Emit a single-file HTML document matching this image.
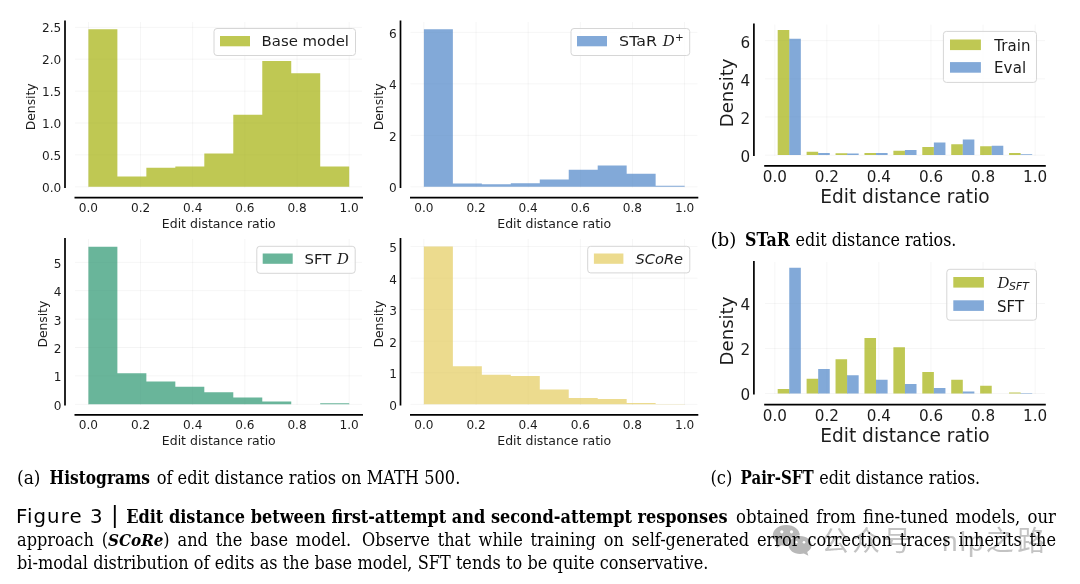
<!DOCTYPE html>
<html><head><meta charset="utf-8"><title>Figure 3</title>
<style>
html,body{margin:0;padding:0;background:#fff;}
body{width:1080px;height:584px;overflow:hidden;}
svg{display:block;}
.chart{font-family:"DejaVu Sans","Liberation Sans",sans-serif;fill:#1c1c1c;}
</style></head><body>
<svg width="1080" height="584" viewBox="0 0 1080 584">
<rect width="1080" height="584" fill="#fff"/>
<g class="chart">
<path d="M88.4 22V187.5M140.56 22V187.5M192.72 22V187.5M244.88 22V187.5M297.04 22V187.5M349.2 22V187.5M75 186.8H362M75 154.9H362M75 123H362M75 91.1H362M75 59.2H362M75 27.3H362" stroke="#000" stroke-opacity="0.028" stroke-width="1" fill="none"/>
<path d="M88.4 186.8V29.21H117.38V186.8ZM117.38 186.8V176.59H146.36V186.8ZM146.36 186.8V167.66H175.33V186.8ZM175.33 186.8V166.38H204.31V186.8ZM204.31 186.8V153.62H233.29V186.8ZM233.29 186.8V114.71H262.27V186.8ZM262.27 186.8V61.11H291.24V186.8ZM291.24 186.8V73.24H320.22V186.8ZM320.22 186.8V166.38H349.2V186.8Z" fill="#bfc853"/>
<path d="M88.4 22V187.5M140.56 22V187.5M192.72 22V187.5M244.88 22V187.5M297.04 22V187.5M349.2 22V187.5M75 186.8H362M75 154.9H362M75 123H362M75 91.1H362M75 59.2H362M75 27.3H362" stroke="#000" stroke-opacity="0.015" stroke-width="1" fill="none"/>
<path d="M65 20.5V188M74.5 197.6H363" stroke="#000" stroke-width="1.7" fill="none"/>
<g font-size="12.1" text-anchor="end">
<text x="61.2" y="191.7">0.0</text>
<text x="61.2" y="159.8">0.5</text>
<text x="61.2" y="127.9">1.0</text>
<text x="61.2" y="96">1.5</text>
<text x="61.2" y="64.1">2.0</text>
<text x="61.2" y="32.2">2.5</text>
</g>
<g font-size="12.1" text-anchor="middle">
<text x="88.4" y="211.5">0.0</text>
<text x="140.56" y="211.5">0.2</text>
<text x="192.72" y="211.5">0.4</text>
<text x="244.88" y="211.5">0.6</text>
<text x="297.04" y="211.5">0.8</text>
<text x="349.2" y="211.5">1.0</text>
</g>
<text x="218.8" y="228.2" font-size="12.5" text-anchor="middle">Edit distance ratio</text>
<text transform="translate(35,106.8) rotate(-90)" font-size="12.3" text-anchor="middle">Density</text>
<rect x="214" y="28.5" width="141.5" height="27" rx="3" fill="#fff" fill-opacity="0.8" stroke="#d6d6d6" stroke-width="1"/>
<rect x="220" y="36" width="30" height="10.3" fill="#bfc853"/>
<text x="261.6" y="46.4" font-size="14.9">Base model</text>
</g>
<g class="chart">
<path d="M423.9 22V187.5M476.04 22V187.5M528.18 22V187.5M580.32 22V187.5M632.46 22V187.5M684.6 22V187.5M410.4 186.8H697.5M410.4 135.3H697.5M410.4 83.8H697.5M410.4 32.3H697.5" stroke="#000" stroke-opacity="0.028" stroke-width="1" fill="none"/>
<path d="M423.9 186.8V29.29H452.87V186.8ZM452.87 186.8V183.45H481.83V186.8ZM481.83 186.8V184.23H510.8V186.8ZM510.8 186.8V183.2H539.77V186.8ZM539.77 186.8V179.59H568.73V186.8ZM568.73 186.8V169.7H597.7V186.8ZM597.7 186.8V165.61H626.67V186.8ZM626.67 186.8V173.8H655.63V186.8ZM655.63 186.8V185.64H684.6V186.8Z" fill="#82a9d8"/>
<path d="M423.9 22V187.5M476.04 22V187.5M528.18 22V187.5M580.32 22V187.5M632.46 22V187.5M684.6 22V187.5M410.4 186.8H697.5M410.4 135.3H697.5M410.4 83.8H697.5M410.4 32.3H697.5" stroke="#000" stroke-opacity="0.015" stroke-width="1" fill="none"/>
<path d="M400.5 20.5V188M410 197.6H698.3" stroke="#000" stroke-width="1.7" fill="none"/>
<g font-size="12.1" text-anchor="end">
<text x="396.6" y="192.3">0</text>
<text x="396.6" y="140.8">2</text>
<text x="396.6" y="89.3">4</text>
<text x="396.6" y="37.8">6</text>
</g>
<g font-size="12.1" text-anchor="middle">
<text x="423.9" y="211.5">0.0</text>
<text x="476.04" y="211.5">0.2</text>
<text x="528.18" y="211.5">0.4</text>
<text x="580.32" y="211.5">0.6</text>
<text x="632.46" y="211.5">0.8</text>
<text x="684.6" y="211.5">1.0</text>
</g>
<text x="554.25" y="228.2" font-size="12.5" text-anchor="middle">Edit distance ratio</text>
<text transform="translate(382.6,106.8) rotate(-90)" font-size="12.3" text-anchor="middle">Density</text>
<rect x="571" y="28.5" width="118.7" height="27" rx="3" fill="#fff" fill-opacity="0.8" stroke="#d6d6d6" stroke-width="1"/>
<rect x="577" y="36" width="30" height="10.3" fill="#82a9d8"/>
<text x="619.1" y="46.2" font-size="14.9" textLength="37.8" lengthAdjust="spacingAndGlyphs">STaR</text><text x="662.7" y="46.2" font-size="14.9" textLength="12" lengthAdjust="spacingAndGlyphs" font-family="'DejaVu Serif',serif" font-style="italic">D</text><text x="675" y="41.3" font-size="10.4">+</text>
</g>
<g class="chart">
<path d="M88.4 239V405M140.56 239V405M192.72 239V405M244.88 239V405M297.04 239V405M349.2 239V405M75 404.3H362M75 375.9H362M75 347.5H362M75 319.1H362M75 290.7H362M75 262.3H362" stroke="#000" stroke-opacity="0.028" stroke-width="1" fill="none"/>
<path d="M88.4 404.3V246.68H117.38V404.3ZM117.38 404.3V373.2H146.36V404.3ZM146.36 404.3V381.38H175.33V404.3ZM175.33 404.3V386.86H204.31V404.3ZM204.31 404.3V392.17H233.29V404.3ZM233.29 404.3V397.48H262.27V404.3ZM262.27 404.3V401.46H291.24V404.3ZM320.22 404.3V403.16H349.2V404.3Z" fill="#69b59a"/>
<path d="M88.4 239V405M140.56 239V405M192.72 239V405M244.88 239V405M297.04 239V405M349.2 239V405M75 404.3H362M75 375.9H362M75 347.5H362M75 319.1H362M75 290.7H362M75 262.3H362" stroke="#000" stroke-opacity="0.015" stroke-width="1" fill="none"/>
<path d="M65 237.9V405.4M74.5 414.8H363" stroke="#000" stroke-width="1.7" fill="none"/>
<g font-size="12.1" text-anchor="end">
<text x="61.4" y="409.8">0</text>
<text x="61.4" y="381.4">1</text>
<text x="61.4" y="353">2</text>
<text x="61.4" y="324.6">3</text>
<text x="61.4" y="296.2">4</text>
<text x="61.4" y="267.8">5</text>
</g>
<g font-size="12.1" text-anchor="middle">
<text x="88.4" y="428.6">0.0</text>
<text x="140.56" y="428.6">0.2</text>
<text x="192.72" y="428.6">0.4</text>
<text x="244.88" y="428.6">0.6</text>
<text x="297.04" y="428.6">0.8</text>
<text x="349.2" y="428.6">1.0</text>
</g>
<text x="218.8" y="445.2" font-size="12.5" text-anchor="middle">Edit distance ratio</text>
<text transform="translate(46.8,324.2) rotate(-90)" font-size="12.3" text-anchor="middle">Density</text>
<rect x="256.8" y="246.3" width="98.4" height="27" rx="3" fill="#fff" fill-opacity="0.8" stroke="#d6d6d6" stroke-width="1"/>
<rect x="262.7" y="253.5" width="30" height="10.3" fill="#69b59a"/>
<text x="304.6" y="263.9" font-size="14.9">SFT</text><text x="337" y="263.9" font-size="14.9" textLength="12" lengthAdjust="spacingAndGlyphs" font-family="'DejaVu Serif',serif" font-style="italic">D</text>
</g>
<g class="chart">
<path d="M423.9 239V405M476.04 239V405M528.18 239V405M580.32 239V405M632.46 239V405M684.6 239V405M410.4 404.3H697.5M410.4 372.76H697.5M410.4 341.22H697.5M410.4 309.68H697.5M410.4 278.14H697.5M410.4 246.6H697.5" stroke="#000" stroke-opacity="0.028" stroke-width="1" fill="none"/>
<path d="M423.9 404.3V246.6H452.87V404.3ZM452.87 404.3V366.29H481.83V404.3ZM481.83 404.3V374.65H510.8V404.3ZM510.8 404.3V376.07H539.77V404.3ZM539.77 404.3V389.6H568.73V404.3ZM568.73 404.3V397.99H597.7V404.3ZM597.7 404.3V399H626.67V404.3ZM626.67 404.3V403.1H655.63V404.3ZM655.63 404.3V403.98H684.6V404.3Z" fill="#ecdb8e"/>
<path d="M423.9 239V405M476.04 239V405M528.18 239V405M580.32 239V405M632.46 239V405M684.6 239V405M410.4 404.3H697.5M410.4 372.76H697.5M410.4 341.22H697.5M410.4 309.68H697.5M410.4 278.14H697.5M410.4 246.6H697.5" stroke="#000" stroke-opacity="0.015" stroke-width="1" fill="none"/>
<path d="M400.5 237.9V405.4M410 414.8H698.3" stroke="#000" stroke-width="1.7" fill="none"/>
<g font-size="12.1" text-anchor="end">
<text x="396.9" y="409.8">0</text>
<text x="396.9" y="378.26">1</text>
<text x="396.9" y="346.72">2</text>
<text x="396.9" y="315.18">3</text>
<text x="396.9" y="283.64">4</text>
<text x="396.9" y="252.1">5</text>
</g>
<g font-size="12.1" text-anchor="middle">
<text x="423.9" y="428.6">0.0</text>
<text x="476.04" y="428.6">0.2</text>
<text x="528.18" y="428.6">0.4</text>
<text x="580.32" y="428.6">0.6</text>
<text x="632.46" y="428.6">0.8</text>
<text x="684.6" y="428.6">1.0</text>
</g>
<text x="554.25" y="445.2" font-size="12.5" text-anchor="middle">Edit distance ratio</text>
<text transform="translate(382.6,324.2) rotate(-90)" font-size="12.3" text-anchor="middle">Density</text>
<rect x="587.7" y="246.3" width="102.1" height="26.6" rx="3" fill="#fff" fill-opacity="0.8" stroke="#d6d6d6" stroke-width="1"/>
<rect x="593.9" y="253.5" width="29.5" height="10.3" fill="#ecdb8e"/>
<text x="635.5" y="263.9" font-size="14.6"><tspan font-style="oblique">SCoRe</tspan></text>
</g>
<g class="chart">
<path d="M774.8 24.5V155.8M826.86 24.5V155.8M878.92 24.5V155.8M930.98 24.5V155.8M983.04 24.5V155.8M1035.1 24.5V155.8M764.9 155.1H1045M764.9 116.98H1045M764.9 78.86H1045M764.9 40.74H1045" stroke="#000" stroke-opacity="0.028" stroke-width="1" fill="none"/>
<path d="M777.69 155.1V30.07H789.26V155.1ZM806.61 155.1V151.86H818.18V155.1ZM835.54 155.1V153.25H847.11V155.1ZM864.46 155.1V152.91H876.03V155.1ZM893.38 155.1V150.72H904.95V155.1ZM922.3 155.1V146.9H933.87V155.1ZM951.23 155.1V144.24H962.79V155.1ZM980.15 155.1V146.24H991.72V155.1ZM1009.07 155.1V152.91H1020.64V155.1Z" fill="#bfc853"/>
<path d="M789.13 155.1V38.83H789.65V155.1ZM818.05 155.1V153.1H818.57V155.1ZM846.98 155.1V153.38H847.5V155.1ZM875.9 155.1V152.91H876.42V155.1ZM904.82 155.1V150.72H905.34V155.1ZM933.74 155.1V146.9H934.26V155.1ZM962.66 155.1V144.24H963.18V155.1ZM991.59 155.1V146.24H992.11V155.1ZM1020.51 155.1V154.15H1021.03V155.1Z" fill="#bfc853"/>
<path d="M789.26 155.1V38.83H800.83V155.1ZM818.18 155.1V153.1H829.75V155.1ZM847.11 155.1V153.38H858.67V155.1ZM876.03 155.1V152.91H887.6V155.1ZM904.95 155.1V149.95H916.52V155.1ZM933.87 155.1V142.52H945.44V155.1ZM962.79 155.1V139.38H974.36V155.1ZM991.72 155.1V145.76H1003.29V155.1ZM1020.64 155.1V154.15H1032.21V155.1Z" fill="#82a9d8"/>
<path d="M774.8 24.5V155.8M826.86 24.5V155.8M878.92 24.5V155.8M930.98 24.5V155.8M983.04 24.5V155.8M1035.1 24.5V155.8M764.9 155.1H1045M764.9 116.98H1045M764.9 78.86H1045M764.9 40.74H1045" stroke="#000" stroke-opacity="0.015" stroke-width="1" fill="none"/>
<path d="M753.9 23.4V156.1M764.2 165.9H1045.8" stroke="#000" stroke-width="1.7" fill="none"/>
<g font-size="15.2" text-anchor="end">
<text x="750.1" y="161.98">0</text>
<text x="750.1" y="123.86">2</text>
<text x="750.1" y="85.74">4</text>
<text x="750.1" y="47.62">6</text>
</g>
<g font-size="15.2" text-anchor="middle">
<text x="774.8" y="182.3">0.0</text>
<text x="826.86" y="182.3">0.2</text>
<text x="878.92" y="182.3">0.4</text>
<text x="930.98" y="182.3">0.6</text>
<text x="983.04" y="182.3">0.8</text>
<text x="1035.1" y="182.3">1.0</text>
</g>
<text x="904.95" y="203.4" font-size="18.6" text-anchor="middle">Edit distance ratio</text>
<text transform="translate(733.4,92.9) rotate(-90)" font-size="18.1" text-anchor="middle">Density</text>
<rect x="943.4" y="31.4" width="93.1" height="51" rx="3" fill="#fff" fill-opacity="0.8" stroke="#d6d6d6" stroke-width="1"/>
<rect x="950" y="39.5" width="30.9" height="10.6" fill="#bfc853"/>
<text x="994.2" y="50.5" font-size="15" textLength="36.2" lengthAdjust="spacing">Train</text>
<rect x="950" y="62.1" width="30.9" height="10.6" fill="#82a9d8"/>
<text x="993.9" y="73.2" font-size="15" textLength="32.3" lengthAdjust="spacing">Eval</text>
</g>
<g class="chart">
<path d="M774.8 262V394.1M826.86 262V394.1M878.92 262V394.1M930.98 262V394.1M983.04 262V394.1M1035.1 262V394.1M764.9 393.4H1045M764.9 348.4H1045M764.9 303.4H1045" stroke="#000" stroke-opacity="0.028" stroke-width="1" fill="none"/>
<path d="M777.69 393.4V388.99H789.26V393.4ZM806.61 393.4V378.71H818.18V393.4ZM835.54 393.4V359.2H847.11V393.4ZM864.46 393.4V338.05H876.03V393.4ZM893.38 393.4V347.27H904.95V393.4ZM922.3 393.4V372.02H933.87V393.4ZM951.23 393.4V379.74H962.79V393.4ZM980.15 393.4V385.73H991.72V393.4ZM1009.07 393.4V392.39H1020.64V393.4Z" fill="#bfc853"/>
<path d="M789.13 393.4V388.99H789.65V393.4ZM818.05 393.4V378.71H818.57V393.4ZM846.98 393.4V375.26H847.5V393.4ZM875.9 393.4V379.74H876.42V393.4ZM904.82 393.4V384H905.34V393.4ZM933.74 393.4V387.93H934.26V393.4ZM962.66 393.4V391.53H963.18V393.4ZM1020.51 393.4V393.06H1021.03V393.4Z" fill="#bfc853"/>
<path d="M789.26 393.4V267.85H800.83V393.4ZM818.18 393.4V368.94H829.75V393.4ZM847.11 393.4V375.26H858.67V393.4ZM876.03 393.4V379.74H887.6V393.4ZM904.95 393.4V384H916.52V393.4ZM933.87 393.4V387.93H945.44V393.4ZM962.79 393.4V391.53H974.36V393.4ZM1020.64 393.4V393.06H1032.21V393.4Z" fill="#82a9d8"/>
<path d="M774.8 262V394.1M826.86 262V394.1M878.92 262V394.1M930.98 262V394.1M983.04 262V394.1M1035.1 262V394.1M764.9 393.4H1045M764.9 348.4H1045M764.9 303.4H1045" stroke="#000" stroke-opacity="0.015" stroke-width="1" fill="none"/>
<path d="M753.9 261.1V394.6M764.2 404.6H1045.8" stroke="#000" stroke-width="1.7" fill="none"/>
<g font-size="15.2" text-anchor="end">
<text x="750.1" y="400.08">0</text>
<text x="750.1" y="355.08">2</text>
<text x="750.1" y="310.08">4</text>
</g>
<g font-size="15.2" text-anchor="middle">
<text x="774.8" y="420.6">0.0</text>
<text x="826.86" y="420.6">0.2</text>
<text x="878.92" y="420.6">0.4</text>
<text x="930.98" y="420.6">0.6</text>
<text x="983.04" y="420.6">0.8</text>
<text x="1035.1" y="420.6">1.0</text>
</g>
<text x="904.95" y="441.9" font-size="18.6" text-anchor="middle">Edit distance ratio</text>
<text transform="translate(733.4,331) rotate(-90)" font-size="18.1" text-anchor="middle">Density</text>
<rect x="946.8" y="269.3" width="89.7" height="50.9" rx="3" fill="#fff" fill-opacity="0.8" stroke="#d6d6d6" stroke-width="1"/>
<rect x="953.3" y="277" width="30.6" height="10.6" fill="#bfc853"/>
<text x="997.6" y="288.2" font-size="15" textLength="12" lengthAdjust="spacingAndGlyphs" font-family="'DejaVu Serif',serif" font-style="italic">D</text><text x="1009" y="290.4" font-size="10.5" textLength="19.8" lengthAdjust="spacingAndGlyphs" font-style="oblique">SFT</text>
<rect x="953.3" y="300.3" width="30.6" height="10.6" fill="#82a9d8"/>
<text x="996.9" y="311.7" font-size="15" textLength="27.3" lengthAdjust="spacing">SFT</text>
</g>
<g class="wm">
<g fill="#b8b8b8">
<path d="M786.3 524.9c-7.5 0-13.5 4.7-13.5 10.4 0 3.3 2 6.2 5.100 8.100l-1.400 4.400 5.200-2.600c1.450 .35 3 .55 4.600 .55 7.500 0 13.500-4.650 13.500-10.450s-6-10.400-13.500-10.400z"/>
<ellipse cx="800.1" cy="545" rx="12.3" ry="9.8" fill="#fff"/>
<path d="M800.1 536c-6.400 0-11.500 4-11.500 9s5.100 9 11.500 9c1.300 0 2.600-.17 3.800-.5l4.500 2.300-1.200-3.800c2.700-1.650 4.400-4.200 4.400-7 0-5-5.100-9-11.500-9z"/>
</g>
<g fill="#fff"><circle cx="781.8" cy="531.8" r="1.6"/><circle cx="791.5" cy="531.8" r="1.6"/><circle cx="796.3" cy="542.3" r="1.3"/><circle cx="804" cy="542.3" r="1.3"/></g>
<text y="551.4" font-size="28" fill="#c3c3c3" font-family='"Liberation Sans","Noto Sans CJK SC",sans-serif'><tspan x="821.2" letter-spacing="3">公众号</tspan><tspan x="920" font-size="20">·</tspan><tspan x="941.9" letter-spacing="2.2">nlp</tspan><tspan x="985.8">之</tspan><tspan x="1017.3">路</tspan></text>
</g>
<g font-family='"DejaVu Serif Condensed","DejaVu Serif","Liberation Serif",serif' font-stretch="condensed" fill="#000">
<text x="17" y="484" font-size="18" textLength="23.5" lengthAdjust="spacingAndGlyphs">(a)</text>
<text x="49.6" y="484" font-size="18" textLength="100.4" lengthAdjust="spacingAndGlyphs" font-weight="bold">Histograms</text>
<text x="156.7" y="484" font-size="18" textLength="303.6" lengthAdjust="spacingAndGlyphs">of edit distance ratios on MATH 500.</text>
<text x="710.4" y="245.7" font-size="18" textLength="26" lengthAdjust="spacingAndGlyphs">(b)</text>
<text x="745" y="245.7" font-size="18" textLength="44.8" lengthAdjust="spacingAndGlyphs" font-weight="bold">STaR</text>
<text x="795.6" y="245.7" font-size="18" textLength="160.8" lengthAdjust="spacingAndGlyphs">edit distance ratios.</text>
<text x="710.4" y="483.6" font-size="18" textLength="22" lengthAdjust="spacingAndGlyphs">(c)</text>
<text x="740.6" y="483.6" font-size="18" textLength="73" lengthAdjust="spacingAndGlyphs" font-weight="bold">Pair-SFT</text>
<text x="819.2" y="483.6" font-size="18" textLength="161" lengthAdjust="spacingAndGlyphs">edit distance ratios.</text>
<text x="15.9" y="523.3" font-size="19.75" textLength="86.6" lengthAdjust="spacing" font-family='"DejaVu Sans","Liberation Sans",sans-serif' font-stretch="normal">Figure 3</text>
<text x="114.7" y="523.2" font-size="22.6" font-family='"DejaVu Sans","Liberation Sans",sans-serif' font-stretch="normal" text-anchor="middle">|</text>
<text x="126.2" y="523.3" font-size="17.9" textLength="601.3" lengthAdjust="spacingAndGlyphs" font-weight="bold">Edit distance between first-attempt and second-attempt responses</text>
<text x="736" y="523.3" font-size="18.3" textLength="320" lengthAdjust="spacingAndGlyphs" word-spacing="1.95">obtained from fine-tuned models, our</text>
<text x="17" y="546.2" font-size="17.9" textLength="1039" lengthAdjust="spacingAndGlyphs" word-spacing="2.75">approach (<tspan font-weight="bold" font-style="italic" font-size="16.8">SCoRe</tspan>) and the base model. <tspan dx="3">Observe</tspan> that while training on self-generated error correction traces inherits the</text>
<text x="17" y="569.2" font-size="17.9" textLength="691.3" lengthAdjust="spacingAndGlyphs" word-spacing="0.16">bi-modal distribution of edits as the base model, SFT tends to be quite conservative.</text>
</g>
</svg>
</body></html>
